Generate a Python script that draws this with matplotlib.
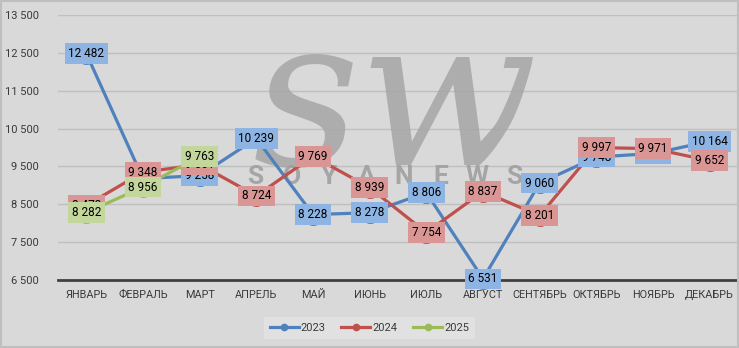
import matplotlib
matplotlib.use("Agg")
import matplotlib.pyplot as plt
from matplotlib.lines import Line2D
from matplotlib.patches import Rectangle
import numpy as np

plt.rcParams['font.family'] = ['Roboto', 'DejaVu Sans']

months = ["ЯНВАРЬ", "ФЕВРАЛЬ", "МАРТ", "АПРЕЛЬ", "МАЙ", "ИЮНЬ", "ИЮЛЬ",
          "АВГУСТ", "СЕНТЯБРЬ", "ОКТЯБРЬ", "НОЯБРЬ", "ДЕКАБРЬ"]
s2023 = [12482, 9180, 9258, 10239, 8228, 8278, 8806, 6531, 9060, 9748, 9842, 10164]
s2024 = [8473, 9348, 9551, 8724, 9769, 8939, 7754, 8837, 8201, 9997, 9971, 9652]
s2025 = [8282, 8956, 9763]
series_names = ["2023", "2024", "2025"]
yticks = [6500, 7500, 8500, 9500, 10500, 11500, 12500, 13500]

line_colors = ["#4F81BD", "#C0504D", "#9BBB59"]
box_colors = ["#8DB4E2", "#DA9694", "#C3D69B"]
bg = "#D9D9D9"

fig = plt.figure(figsize=(7.39, 3.48), dpi=100, facecolor=bg)
ax = fig.add_axes([58/739, 1-280/348, 680/739, 265/348])
ax.set_facecolor(bg)

x = np.arange(len(months))
ax.set_xlim(-0.5, len(months)-0.5)
ax.set_ylim(yticks[0], yticks[-1])

# gridlines
ax.set_yticks(yticks)
ax.set_yticklabels([f"{v:,}".replace(",", " ") for v in yticks])
ax.grid(axis='y', color='#BFBFBF', lw=1, zorder=0)
ax.set_axisbelow(True)
for sp in ax.spines.values():
    sp.set_visible(False)
ax.axhline(yticks[0], color='#404040', lw=2.0, zorder=2, clip_on=False)
ax.set_xticks(x)
ax.set_xticklabels(months)
ax.tick_params(axis='y', length=0, pad=14, labelsize=8, labelcolor='#3A3A3A')
ax.tick_params(axis='x', length=0, pad=7, labelsize=7.8, labelcolor='#3A3A3A')

# watermark
ax.text(0.535, 0.69, "sw", transform=fig.transFigure, fontsize=150,
        family='DejaVu Serif', style='italic', color='#A6A6A6', alpha=0.85,
        ha='center', va='center', zorder=1.5)
wm_letters = "SOYANEWS"
for i, ch in enumerate(wm_letters):
    ax.text((255 + i*37.1)/739, 1-177/348, ch, transform=fig.transFigure,
            fontsize=19, fontweight='bold', color='#A0A0A0', alpha=0.9,
            ha='center', va='center', zorder=1.5)

all_series = [s2023, s2024, s2025]
for k, (vals, lc) in enumerate(zip(all_series, line_colors)):
    xs = x[:len(vals)]
    ax.plot(xs, vals, color=lc, lw=2.3, marker='o', markersize=14,
            markerfacecolor=lc, markeredgecolor=lc, zorder=3+k, clip_on=False)

for k, (vals, bc) in enumerate(zip(all_series, box_colors)):
    xs = x[:len(vals)]
    for xi, v in zip(xs, vals):
        ax.text(xi, v, f"{v:,}".replace(",", " "), ha='center', va='center',
                fontsize=8.5, color='black', zorder=7+k, clip_on=False,
                bbox=dict(boxstyle='square,pad=0.32', facecolor=bc,
                          edgecolor='none'))

handles = [Line2D([0], [0], color=c, lw=2.3, marker='o', markersize=4.5)
           for c in line_colors]
leg = fig.legend(handles, series_names, loc='center', bbox_to_anchor=(0.5, 1-328/348),
                 ncol=3, frameon=True, fontsize=8, handlelength=2.6,
                 handletextpad=0.2, columnspacing=1.4, borderpad=0.5)
leg.get_frame().set_facecolor('#E4E4E4')
leg.get_frame().set_edgecolor('none')
leg.get_frame().set_boxstyle('square', pad=0)
for t in leg.get_texts():
    t.set_color('#3A3A3A')

fig.add_artist(Rectangle((0.001, 0.002), 0.997, 0.995, transform=fig.transFigure,
                         fill=False, edgecolor='#BFBFBF', lw=1.5))

fig.savefig("out.png", dpi=100, facecolor=bg)
